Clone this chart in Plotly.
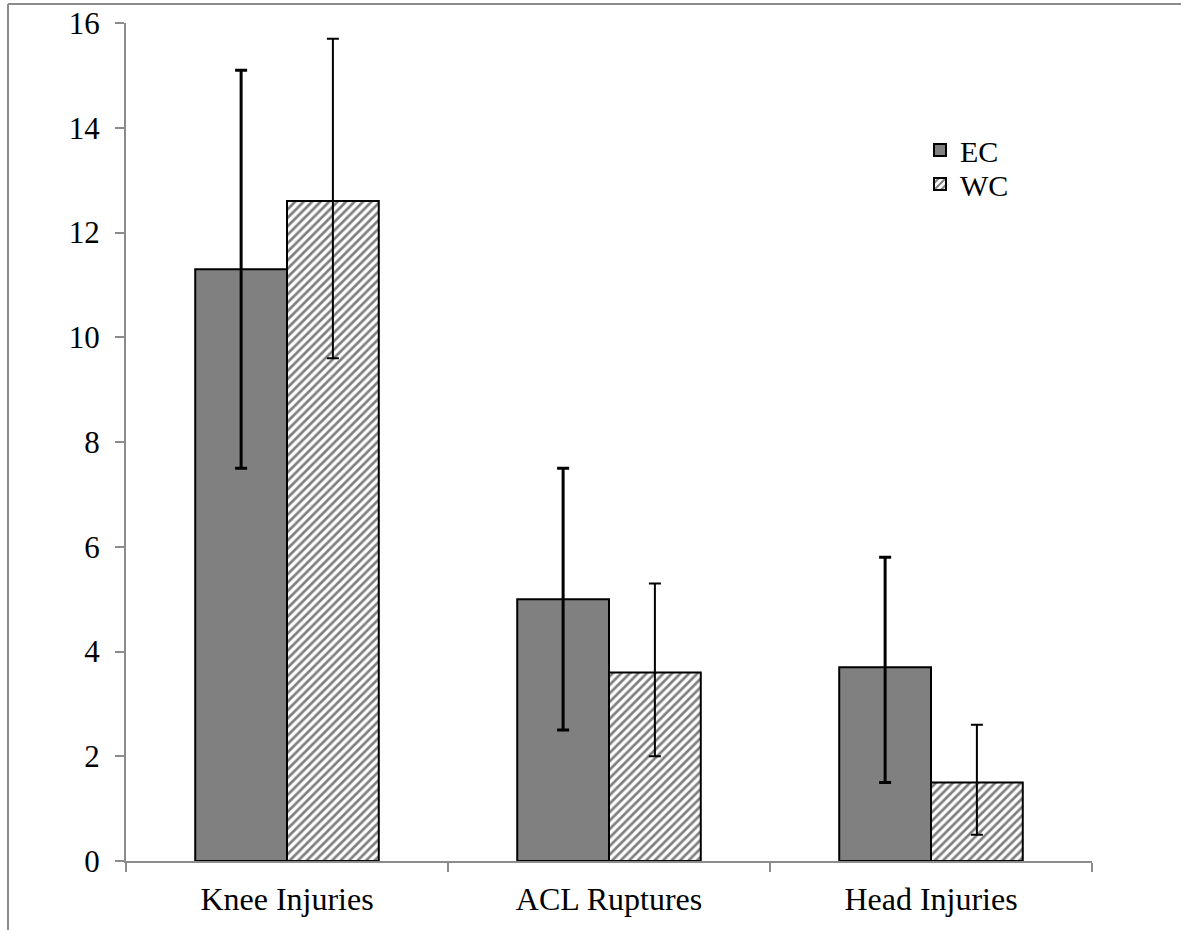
import plotly.graph_objects as go

categories = ["Knee Injuries", "ACL Ruptures", "Head Injuries"]
ec_values = [11.3, 5.0, 3.7]
ec_err_plus = [3.8, 2.5, 2.1]
ec_err_minus = [3.8, 2.5, 2.2]
wc_values = [12.6, 3.6, 1.5]
wc_err_plus = [3.1, 1.7, 1.1]
wc_err_minus = [3.0, 1.6, 1.0]
y_ticks = [0, 2, 4, 6, 8, 10, 12, 14, 16]

FONT = "Liberation Serif"
AXIS_GRAY = "#8c8c8c"

W, H = 1181, 930
ML, MR, MT, MB = 126, 89, 23, 69
pw, ph = W - ML - MR, H - MT - MB

def px_to_paper_x(px):
    return (px - ML) / pw

def px_to_paper_y(py):
    return (H - MB - py) / ph

fig = go.Figure()
fig.add_trace(go.Bar(
    name="EC", x=categories, y=ec_values,
    marker=dict(color="#808080", line=dict(color="black", width=2)),
    error_y=dict(type="data", symmetric=False, array=ec_err_plus, arrayminus=ec_err_minus,
                 color="black", thickness=3, width=6),
    legend="legend",
))
fig.add_trace(go.Bar(
    name="WC", x=categories, y=wc_values,
    marker=dict(color="white", line=dict(color="black", width=2),
                pattern=dict(shape="/", fgcolor="black", bgcolor="white", size=6, solidity=0.45)),
    error_y=dict(type="data", symmetric=False, array=wc_err_plus, arrayminus=wc_err_minus,
                 color="black", thickness=2, width=6),
    legend="legend2",
))

# outer frame (left and top edges visible)
fx = px_to_paper_x(8)
fy_top = px_to_paper_y(4)
fig.add_shape(type="line", xref="paper", yref="paper", x0=fx, x1=px_to_paper_x(1200),
              y0=fy_top, y1=fy_top, line=dict(color=AXIS_GRAY, width=2))
fig.add_shape(type="line", xref="paper", yref="paper", x0=fx, x1=fx,
              y0=fy_top, y1=px_to_paper_y(940), line=dict(color=AXIS_GRAY, width=2))

fig.update_layout(
    width=W, height=H,
    margin=dict(l=ML, r=MR, t=MT, b=MB, autoexpand=False),
    plot_bgcolor="white", paper_bgcolor="white",
    barmode="group", bargap=0.43, bargroupgap=0,
    font=dict(family=FONT, size=31, color="black"),
    legend=dict(x=px_to_paper_x(920), y=px_to_paper_y(150), xanchor="left", yanchor="middle",
                bgcolor="rgba(0,0,0,0)", font=dict(family=FONT, size=30, color="black")),
    legend2=dict(x=px_to_paper_x(920), y=px_to_paper_y(184), xanchor="left", yanchor="middle",
                 bgcolor="rgba(0,0,0,0)", font=dict(family=FONT, size=30, color="black")),
    showlegend=True,
)
fig.update_yaxes(range=[0, 16], tickvals=y_ticks, ticks="outside", ticklen=9, tickwidth=2,
                 tickcolor=AXIS_GRAY, showline=True, linecolor=AXIS_GRAY, linewidth=2,
                 showgrid=False, zeroline=False, automargin=False, ticklabelstandoff=9,
                 tickfont=dict(family=FONT, size=31, color="black"))
fig.update_xaxes(ticks="outside", tickson="boundaries", ticklen=9, tickwidth=2,
                 tickcolor=AXIS_GRAY, showline=True, linecolor=AXIS_GRAY, linewidth=2,
                 showgrid=False, automargin=False, ticklabelstandoff=9,
                 tickfont=dict(family=FONT, size=32, color="black"))

fig.write_html("out.html", config={"displayModeBar": False},
               post_script="document.body.style.margin='0';")
